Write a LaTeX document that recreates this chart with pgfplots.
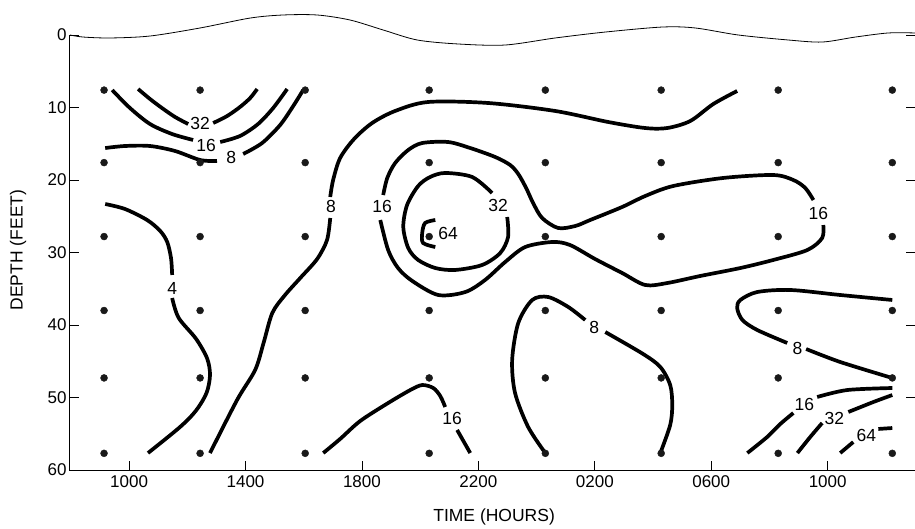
\documentclass[border=0pt]{standalone}
\usepackage{fontspec}
\setmainfont{Liberation Sans}
\usepackage{pgfplots}
\pgfplotsset{compat=1.18}
\pgfplotsset{
  iso/.style={black, line width=3.7pt, smooth, line cap=butt, mark=none},
}
\tikzset{lbl/.style={font=\fontsize{17.5}{20}\selectfont, inner sep=0pt}}
\begin{document}
\begin{tikzpicture}[font=\fontsize{17}{20}\selectfont]
\begin{axis}[
  scale only axis, width=845pt, height=435pt,
  xmin=7.97, xmax=37.0, ymin=0, ymax=60, y dir=reverse,
  axis line style={draw=none},
  clip=false,
  xtick={10,14,18,22,26,30,34},
  xticklabels={1000,1400,1800,2200,0200,0600,1000},
  ytick={0,10,20,30,40,50,60},
  xtick pos=left, ytick pos=both,
  xticklabel pos=left, yticklabel pos=left,
  /pgf/number format/assume math mode=true,
  tick style={black, line width=0.8pt},
  major tick length=9pt,
  tick label style={font=\fontsize{17}{20}\selectfont},
  xticklabel style={yshift=-2pt},
]
% sea surface
\addplot[black, line width=0.8pt, smooth] coordinates {
  (7.97,0) (8.42,0.28) (9.35,0.41) (10.72,0.14) (12.44,-0.97) (14.16,-2.34)
  (15.29,-2.76) (16.46,-2.76) (17.59,-2.07) (18.73,-0.69) (19.90,0.69)
  (21.31,1.24) (22.92,1.38) (24.64,0.41) (26.36,-0.41) (28.32,-1.10)
  (29.45,-0.97) (30.93,0) (32.65,0.69) (33.81,0.97) (34.95,0.28)
  (36.08,-0.28) (37.0,-0.28)};
% sampling stations
\addplot[only marks, mark=*, mark size=3.5pt, black!90] coordinates {
  (9.14,7.6) (12.44,7.6) (16.05,7.6) (20.31,7.6) (24.30,7.6) (28.28,7.6) (32.30,7.6) (36.22,7.6)
  (9.14,17.6) (12.44,17.6) (16.05,17.6) (20.31,17.6) (24.30,17.6) (28.28,17.6) (32.30,17.6) (36.22,17.6)
  (9.14,27.8) (12.44,27.8) (16.05,27.8) (20.31,27.8) (24.30,27.8) (28.28,27.8) (32.30,27.8) (36.22,27.8)
  (9.14,38.0) (12.44,38.0) (16.05,38.0) (20.31,38.0) (24.30,38.0) (28.28,38.0) (32.30,38.0) (36.22,38.0)
  (9.14,47.3) (12.44,47.3) (16.05,47.3) (20.31,47.3) (24.30,47.3) (28.28,47.3) (32.30,47.3) (36.22,47.3)
  (9.14,57.7) (12.44,57.7) (16.05,57.7) (20.31,57.7) (24.30,57.7) (28.28,57.7) (32.30,57.7) (36.22,57.7)};
% 32 (upper left)
\addplot[iso] coordinates {(10.31,7.45) (10.72,8.83) (11.13,10.07) (11.58,11.31) (12.03,12.28)};
\addplot[iso] coordinates {(12.89,12.14) (13.37,11.17) (13.81,9.93) (14.16,8.69) (14.40,7.45)};
% 16 (upper left)
\addplot[iso] coordinates {(9.42,7.59) (10.03,10.07) (10.72,12.28) (11.48,13.66) (12.20,14.48)};
\addplot[iso] coordinates {(13.13,14.76) (13.81,13.93) (14.43,12.28) (14.95,10.07) (15.43,7.45)};
% 8 (upper left)
\addplot[iso] coordinates {(9.18,15.59) (9.86,15.31) (10.72,15.31) (11.58,16.0) (12.44,17.24) (13.02,17.38)};
\addplot[iso] coordinates {(13.92,16.41) (14.57,14.90) (15.19,12.41) (15.64,9.79) (15.98,7.59)};
% 4
\addplot[iso] coordinates {(9.18,23.31) (9.86,24.0) (10.62,25.52) (11.07,27.03) (11.31,28.55) (11.44,30.76) (11.48,33.10)};
\addplot[iso] coordinates {(11.48,36.28) (11.70,39.0) (12.30,41.9) (12.68,44.6) (12.78,46.9) (12.66,49.38) (12.30,51.8) (11.75,54.07) (10.65,57.66)};
% 8 (long band)
\addplot[iso] coordinates {(12.78,57.66) (13.71,50.34) (14.33,46.21) (14.62,42.48) (14.92,38.34) (15.35,35.90) (15.88,33.52) (16.46,30.90) (16.80,28.28) (16.91,25.24)};
\addplot[iso] coordinates {(16.91,22.34) (17.01,20.0) (17.25,16.97) (17.73,14.34) (18.35,12.14) (19.14,10.48) (20.27,9.24) (22.34,9.38) (24.64,10.48) (26.46,12.0) (27.73,12.83) (28.49,12.83) (29.28,11.86) (30.07,9.52) (30.89,7.72)};
% 16 (central loop)
\addplot[iso] coordinates {(18.73,22.07) (18.87,19.72) (19.14,17.66) (19.59,15.86) (20.07,14.90) (20.96,14.76) (21.72,15.59) (22.58,16.83) (23.09,17.93) (23.37,19.17) (23.64,21.10) (23.88,23.17) (24.19,25.24) (24.74,26.62) (25.33,26.34) (25.84,25.52) (26.94,23.72) (27.73,22.21) (28.69,20.83) (30.41,19.72) (32.13,19.31) (32.82,20.0) (33.23,21.10) (33.51,22.76)};
\addplot[iso] coordinates {(33.85,26.21) (33.81,28.0) (33.30,29.66) (32.13,31.03) (31.00,32.14) (29.62,33.24) (28.49,34.21) (27.73,34.48) (26.94,32.83) (26.01,30.90) (25.15,28.97) (24.54,28.55) (23.61,29.24) (22.92,31.31) (22.23,33.79) (21.55,35.45) (20.62,35.86) (19.73,33.93) (19.24,32.14) (18.90,29.66) (18.63,25.52)};
% 32 (central loop)
\addplot[iso] coordinates {(22.99,25.10) (23.02,27.86) (22.75,30.07) (22.13,31.72) (21.20,32.41) (20.52,32.14) (19.93,31.03) (19.59,29.38) (19.42,26.48) (19.55,23.45) (19.93,20.83) (20.34,19.59) (20.86,19.03) (21.79,19.59) (22.47,21.79)};
% 64 (central)
\addplot[iso] coordinates {(20.52,25.52) (20.17,25.93) (20.07,27.31) (20.10,28.69) (20.52,29.24)};
% 16 (bottom centre)
\addplot[iso] coordinates {(16.67,57.66) (17.25,55.72) (17.94,53.24) (18.90,50.76) (19.66,48.97) (20.07,48.28) (20.45,48.69) (20.69,49.79) (20.86,51.31)};
\addplot[iso] coordinates {(21.27,54.48) (21.72,57.66)};
% 8 (bottom middle)
\addplot[iso] coordinates {(24.30,57.66) (23.71,54.07) (23.26,49.38) (23.16,44.83) (23.37,39.72) (23.85,36.55) (24.40,36.14) (25.09,37.52) (25.67,39.31)};
\addplot[iso] coordinates {(26.36,40.97) (27.66,44.0) (28.25,45.79) (28.59,48.28) (28.66,51.03) (28.59,53.79) (28.25,57.66)};
% 8 (right)
\addplot[iso] coordinates {(36.22,36.55) (34.43,35.86) (32.72,35.17) (31.58,35.45) (31.0,36.55) (30.89,37.66) (31.07,39.31) (31.58,40.69) (32.61,42.48)};
\addplot[iso] coordinates {(33.26,43.31) (34.43,45.10) (36.22,47.31)};
% 16, 32, 64 (lower right)
\addplot[iso] coordinates {(31.24,57.66) (31.92,55.45) (32.37,53.66) (32.82,52.14)};
\addplot[iso] coordinates {(33.64,49.93) (34.67,48.97) (36.22,48.69)};
\addplot[iso] coordinates {(32.96,57.66) (33.40,55.45) (33.81,53.52)};
\addplot[iso] coordinates {(34.71,52.0) (35.57,50.62) (36.22,49.66)};
\addplot[iso] coordinates {(34.43,57.66) (34.88,56.14)};
\addplot[iso] coordinates {(35.74,54.34) (36.22,54.21)};
% contour values
\node[lbl] at (axis cs:12.44,12.14) {32};
\node[lbl] at (axis cs:12.65,15.17) {16};
\node[lbl] at (axis cs:13.51,16.83) {8};
\node[lbl] at (axis cs:11.48,34.90) {4};
\node[lbl] at (axis cs:16.94,23.72) {8};
\node[lbl] at (axis cs:18.69,23.72) {16};
\node[lbl] at (axis cs:33.68,24.55) {16};
\node[lbl] at (axis cs:22.68,23.45) {32};
\node[lbl] at (axis cs:20.96,27.31) {64};
\node[lbl] at (axis cs:21.10,52.83) {16};
\node[lbl] at (axis cs:25.98,40.28) {8};
\node[lbl] at (axis cs:32.96,43.17) {8};
\node[lbl] at (axis cs:33.20,51.03) {16};
\node[lbl] at (axis cs:34.23,52.83) {32};
\node[lbl] at (axis cs:35.33,55.17) {64};
% axis titles
\node[lbl] at (axis cs:22.54,66.48) {TIME (HOURS)};
\node[lbl, rotate=90] at (axis cs:6.19,29.66) {DEPTH (FEET)};
% left and bottom axis lines
\draw[black, line width=1pt] (axis cs:7.97,0) -- (axis cs:7.97,60) -- (axis cs:37.0,60);
\coordinate (ll) at (axis cs:7.97,60);
\coordinate (ur) at (axis cs:37.0,0);
\end{axis}
\pgfresetboundingbox
\path ([shift={(-70pt,-59pt)}]ll) rectangle ([shift={(0pt,35pt)}]ur);
\end{tikzpicture}
\end{document}
